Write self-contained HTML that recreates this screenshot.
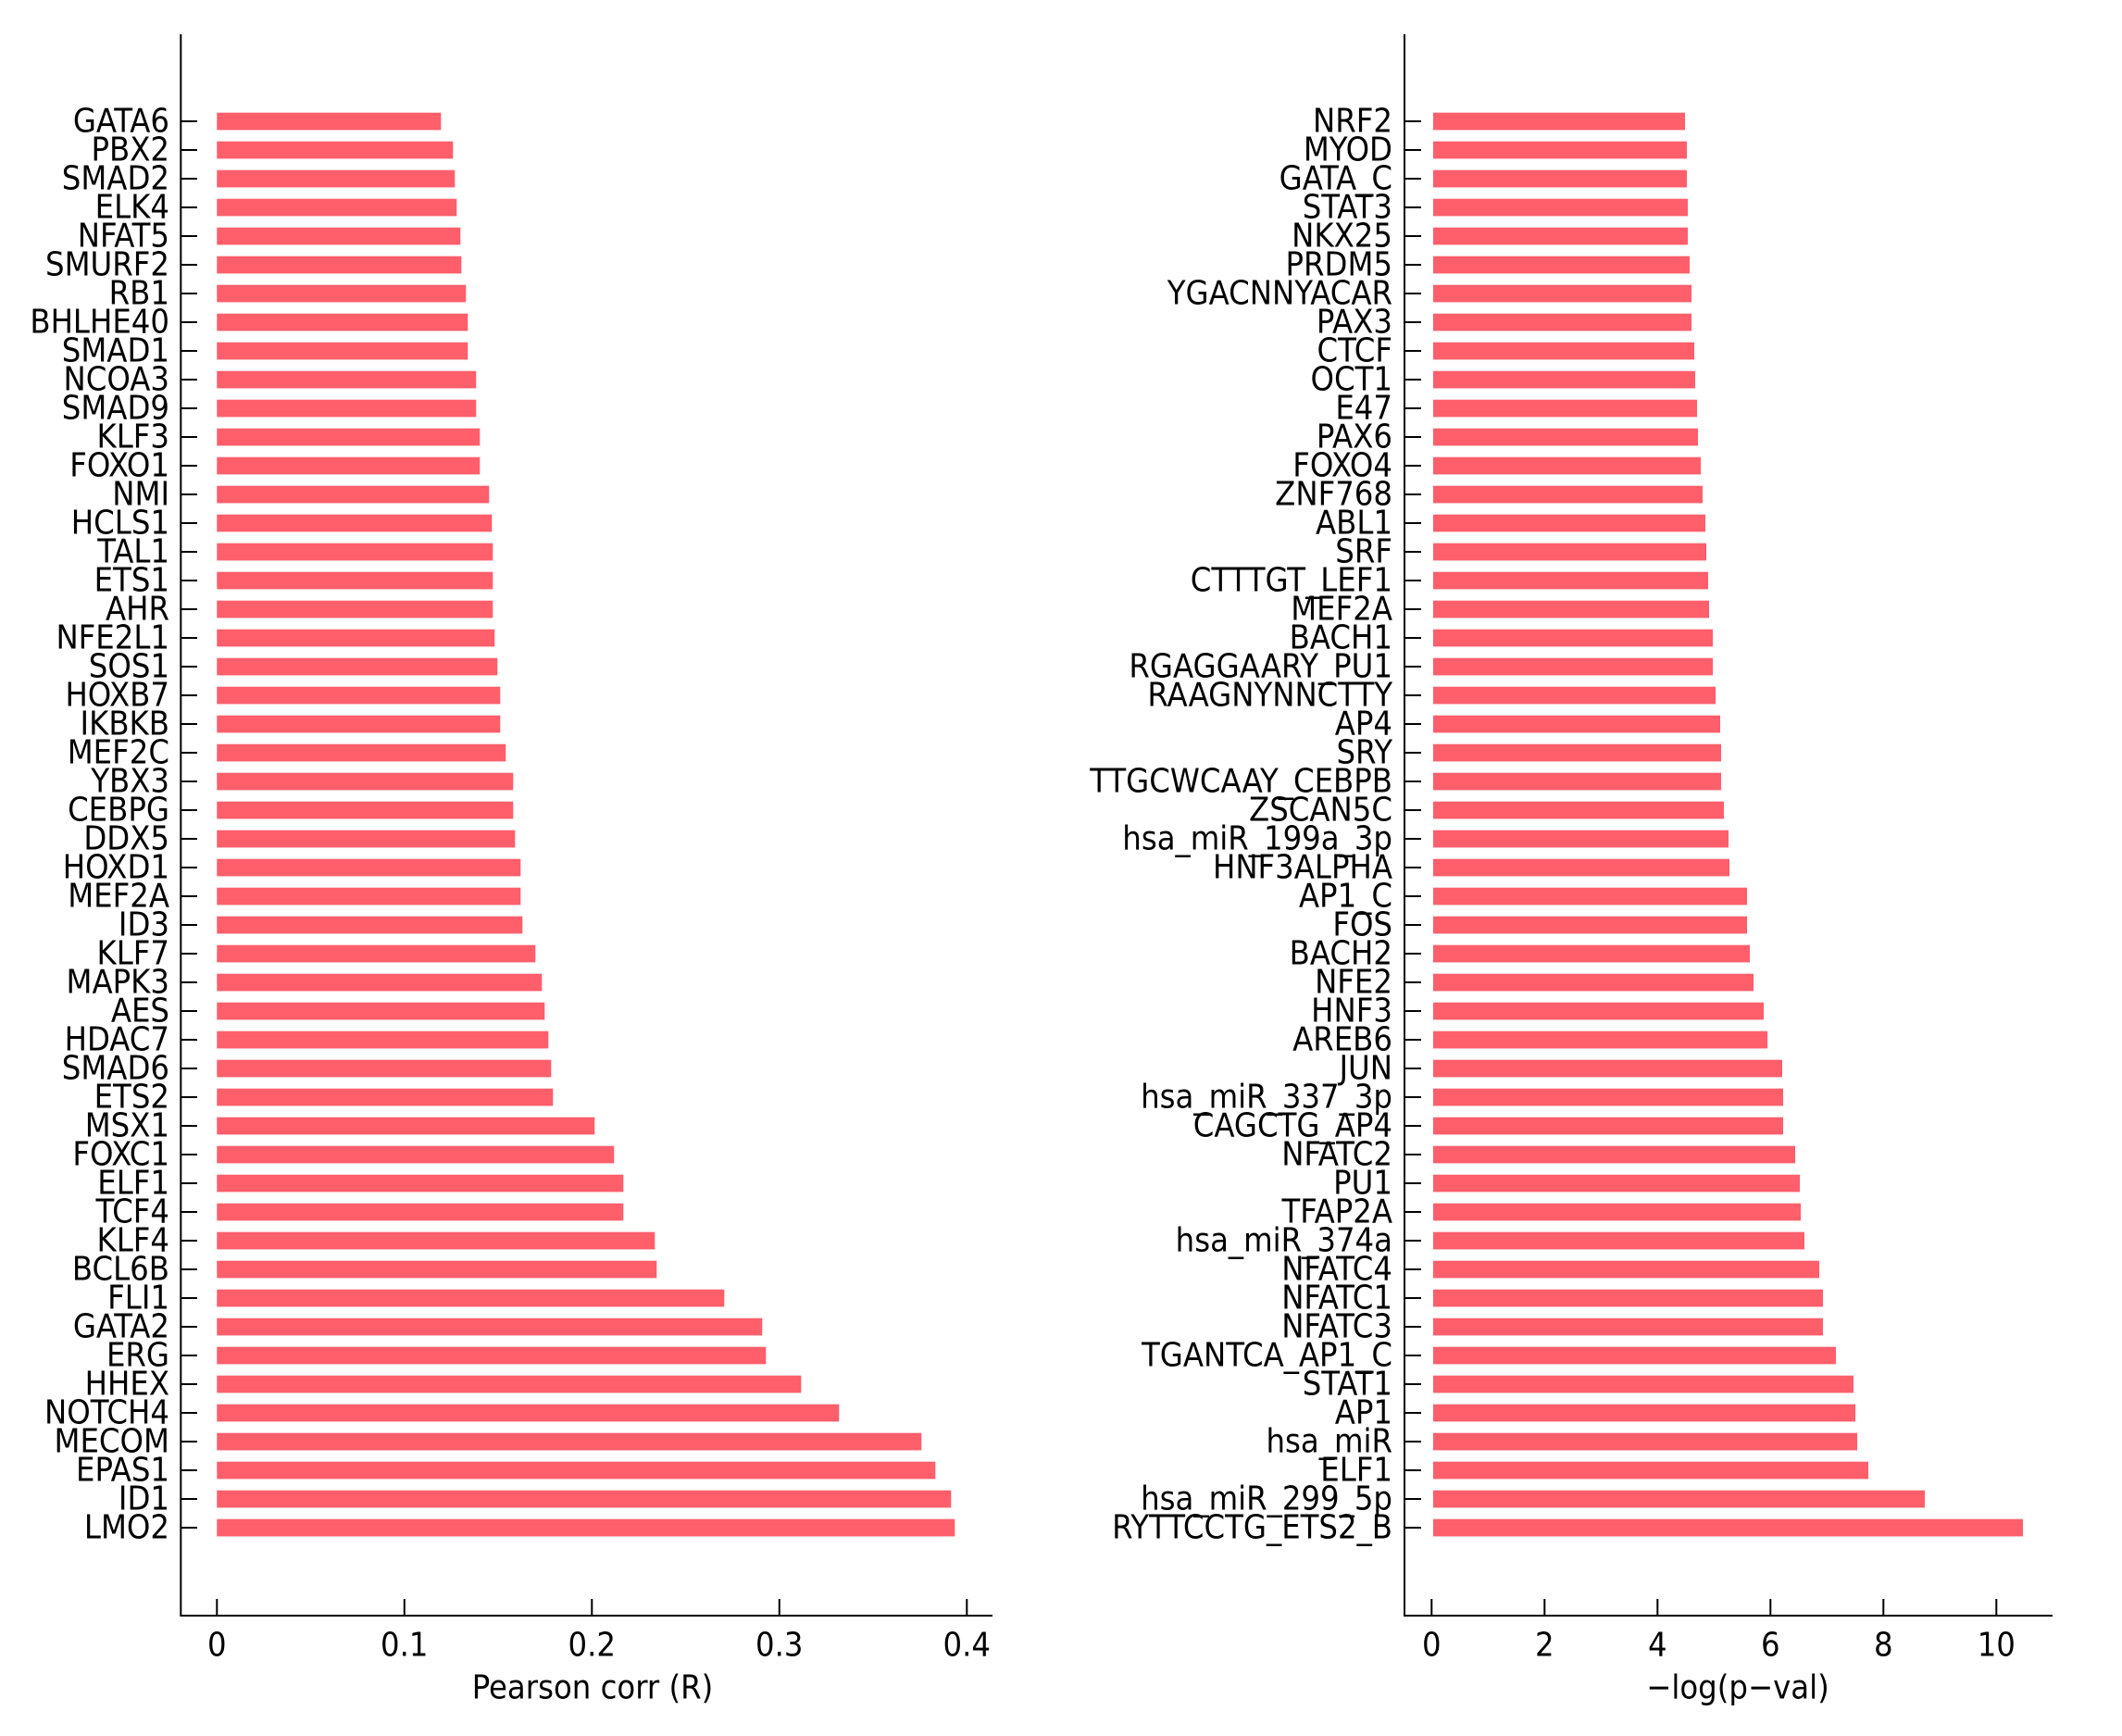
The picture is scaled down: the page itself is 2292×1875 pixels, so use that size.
<!DOCTYPE html>
<html><head><meta charset="utf-8"><style>
html,body{margin:0;padding:0;background:#fff;}
svg{display:block;}
text{font-family:"DejaVu Sans Condensed","DejaVu Sans","Liberation Sans",sans-serif;font-stretch:condensed;font-size:36px;fill:#000;}
</style></head><body>
<svg width="2292" height="1875" viewBox="0 0 2292 1875" xmlns="http://www.w3.org/2000/svg">
<g fill="#ff5e6b">
<rect x="234.3" y="121.7" width="242" height="18.7"/>
<rect x="234.3" y="152.7" width="255" height="18.7"/>
<rect x="234.3" y="183.7" width="257" height="18.7"/>
<rect x="234.3" y="214.7" width="259" height="18.7"/>
<rect x="234.3" y="245.7" width="263" height="18.7"/>
<rect x="234.3" y="276.7" width="264" height="18.7"/>
<rect x="234.3" y="307.7" width="269" height="18.7"/>
<rect x="234.3" y="338.7" width="271" height="18.7"/>
<rect x="234.3" y="369.7" width="271" height="18.7"/>
<rect x="234.3" y="400.7" width="280" height="18.7"/>
<rect x="234.3" y="431.7" width="280" height="18.7"/>
<rect x="234.3" y="462.7" width="284" height="18.7"/>
<rect x="234.3" y="493.7" width="284" height="18.7"/>
<rect x="234.3" y="524.7" width="294" height="18.7"/>
<rect x="234.3" y="555.7" width="297" height="18.7"/>
<rect x="234.3" y="586.7" width="298" height="18.7"/>
<rect x="234.3" y="617.7" width="298" height="18.7"/>
<rect x="234.3" y="648.7" width="298" height="18.7"/>
<rect x="234.3" y="679.7" width="300" height="18.7"/>
<rect x="234.3" y="710.7" width="303" height="18.7"/>
<rect x="234.3" y="741.7" width="306" height="18.7"/>
<rect x="234.3" y="772.7" width="306" height="18.7"/>
<rect x="234.3" y="803.7" width="312" height="18.7"/>
<rect x="234.3" y="834.7" width="320" height="18.7"/>
<rect x="234.3" y="865.7" width="320" height="18.7"/>
<rect x="234.3" y="896.7" width="322" height="18.7"/>
<rect x="234.3" y="927.7" width="328" height="18.7"/>
<rect x="234.3" y="958.7" width="328" height="18.7"/>
<rect x="234.3" y="989.7" width="330" height="18.7"/>
<rect x="234.3" y="1020.7" width="344" height="18.7"/>
<rect x="234.3" y="1051.7" width="351" height="18.7"/>
<rect x="234.3" y="1082.7" width="354" height="18.7"/>
<rect x="234.3" y="1113.7" width="358" height="18.7"/>
<rect x="234.3" y="1144.7" width="361" height="18.7"/>
<rect x="234.3" y="1175.7" width="363" height="18.7"/>
<rect x="234.3" y="1206.7" width="408" height="18.7"/>
<rect x="234.3" y="1237.7" width="429" height="18.7"/>
<rect x="234.3" y="1268.7" width="439" height="18.7"/>
<rect x="234.3" y="1299.7" width="439" height="18.7"/>
<rect x="234.3" y="1330.7" width="473" height="18.7"/>
<rect x="234.3" y="1361.7" width="475" height="18.7"/>
<rect x="234.3" y="1392.7" width="548" height="18.7"/>
<rect x="234.3" y="1423.7" width="589" height="18.7"/>
<rect x="234.3" y="1454.7" width="593" height="18.7"/>
<rect x="234.3" y="1485.7" width="631" height="18.7"/>
<rect x="234.3" y="1516.7" width="672" height="18.7"/>
<rect x="234.3" y="1547.7" width="761" height="18.7"/>
<rect x="234.3" y="1578.7" width="776" height="18.7"/>
<rect x="234.3" y="1609.7" width="793" height="18.7"/>
<rect x="234.3" y="1640.7" width="797" height="18.7"/>

<rect x="1548" y="121.7" width="272" height="18.7"/>
<rect x="1548" y="152.7" width="274" height="18.7"/>
<rect x="1548" y="183.7" width="274" height="18.7"/>
<rect x="1548" y="214.7" width="275" height="18.7"/>
<rect x="1548" y="245.7" width="275" height="18.7"/>
<rect x="1548" y="276.7" width="277" height="18.7"/>
<rect x="1548" y="307.7" width="279" height="18.7"/>
<rect x="1548" y="338.7" width="279" height="18.7"/>
<rect x="1548" y="369.7" width="282" height="18.7"/>
<rect x="1548" y="400.7" width="283" height="18.7"/>
<rect x="1548" y="431.7" width="285" height="18.7"/>
<rect x="1548" y="462.7" width="286" height="18.7"/>
<rect x="1548" y="493.7" width="289" height="18.7"/>
<rect x="1548" y="524.7" width="291" height="18.7"/>
<rect x="1548" y="555.7" width="294" height="18.7"/>
<rect x="1548" y="586.7" width="295" height="18.7"/>
<rect x="1548" y="617.7" width="297" height="18.7"/>
<rect x="1548" y="648.7" width="298" height="18.7"/>
<rect x="1548" y="679.7" width="302" height="18.7"/>
<rect x="1548" y="710.7" width="302" height="18.7"/>
<rect x="1548" y="741.7" width="305" height="18.7"/>
<rect x="1548" y="772.7" width="310" height="18.7"/>
<rect x="1548" y="803.7" width="311" height="18.7"/>
<rect x="1548" y="834.7" width="311" height="18.7"/>
<rect x="1548" y="865.7" width="314" height="18.7"/>
<rect x="1548" y="896.7" width="319" height="18.7"/>
<rect x="1548" y="927.7" width="320" height="18.7"/>
<rect x="1548" y="958.7" width="339" height="18.7"/>
<rect x="1548" y="989.7" width="339" height="18.7"/>
<rect x="1548" y="1020.7" width="342" height="18.7"/>
<rect x="1548" y="1051.7" width="346" height="18.7"/>
<rect x="1548" y="1082.7" width="357" height="18.7"/>
<rect x="1548" y="1113.7" width="361" height="18.7"/>
<rect x="1548" y="1144.7" width="377" height="18.7"/>
<rect x="1548" y="1175.7" width="378" height="18.7"/>
<rect x="1548" y="1206.7" width="378" height="18.7"/>
<rect x="1548" y="1237.7" width="391" height="18.7"/>
<rect x="1548" y="1268.7" width="396" height="18.7"/>
<rect x="1548" y="1299.7" width="397" height="18.7"/>
<rect x="1548" y="1330.7" width="401" height="18.7"/>
<rect x="1548" y="1361.7" width="417" height="18.7"/>
<rect x="1548" y="1392.7" width="421" height="18.7"/>
<rect x="1548" y="1423.7" width="421" height="18.7"/>
<rect x="1548" y="1454.7" width="435" height="18.7"/>
<rect x="1548" y="1485.7" width="454" height="18.7"/>
<rect x="1548" y="1516.7" width="456" height="18.7"/>
<rect x="1548" y="1547.7" width="458" height="18.7"/>
<rect x="1548" y="1578.7" width="470" height="18.7"/>
<rect x="1548" y="1609.7" width="531" height="18.7"/>
<rect x="1548" y="1640.7" width="637" height="18.7"/>
</g>

<g stroke="#000" stroke-width="2" fill="none">
<path d="M195.3 37 V1745 H1072"/>
<path d="M1517 37 V1745 H2217"/>
<path d="M234.3 1727V1745 M436.8 1727V1745 M639.3 1727V1745 M841.8 1727V1745 M1044.3 1727V1745"/>
<path d="M1546.3 1727V1745 M1668.3 1727V1745 M1790.3 1727V1745 M1912.3 1727V1745 M2034.3 1727V1745 M2156.3 1727V1745"/>
<path d="M195 131h18M195 162h18M195 193h18M195 224h18M195 255h18M195 286h18M195 317h18M195 348h18M195 379h18M195 410h18M195 441h18M195 472h18M195 503h18M195 534h18M195 565h18M195 596h18M195 627h18M195 658h18M195 689h18M195 720h18M195 751h18M195 782h18M195 813h18M195 844h18M195 875h18M195 906h18M195 937h18M195 968h18M195 999h18M195 1030h18M195 1061h18M195 1092h18M195 1123h18M195 1154h18M195 1185h18M195 1216h18M195 1247h18M195 1278h18M195 1309h18M195 1340h18M195 1371h18M195 1402h18M195 1433h18M195 1464h18M195 1495h18M195 1526h18M195 1557h18M195 1588h18M195 1619h18M195 1650h18"/>
<path d="M1517 131h18M1517 162h18M1517 193h18M1517 224h18M1517 255h18M1517 286h18M1517 317h18M1517 348h18M1517 379h18M1517 410h18M1517 441h18M1517 472h18M1517 503h18M1517 534h18M1517 565h18M1517 596h18M1517 627h18M1517 658h18M1517 689h18M1517 720h18M1517 751h18M1517 782h18M1517 813h18M1517 844h18M1517 875h18M1517 906h18M1517 937h18M1517 968h18M1517 999h18M1517 1030h18M1517 1061h18M1517 1092h18M1517 1123h18M1517 1154h18M1517 1185h18M1517 1216h18M1517 1247h18M1517 1278h18M1517 1309h18M1517 1340h18M1517 1371h18M1517 1402h18M1517 1433h18M1517 1464h18M1517 1495h18M1517 1526h18M1517 1557h18M1517 1588h18M1517 1619h18M1517 1650h18"/>
</g>

<g text-anchor="end" dominant-baseline="central">
<text x="183" y="131">GATA6</text>
<text x="183" y="162">PBX2</text>
<text x="183" y="193">SMAD2</text>
<text x="183" y="224">ELK4</text>
<text x="183" y="255">NFAT5</text>
<text x="183" y="286">SMURF2</text>
<text x="183" y="317">RB1</text>
<text x="183" y="348">BHLHE40</text>
<text x="183" y="379">SMAD1</text>
<text x="183" y="410">NCOA3</text>
<text x="183" y="441">SMAD9</text>
<text x="183" y="472">KLF3</text>
<text x="183" y="503">FOXO1</text>
<text x="183" y="534">NMI</text>
<text x="183" y="565">HCLS1</text>
<text x="183" y="596">TAL1</text>
<text x="183" y="627">ETS1</text>
<text x="183" y="658">AHR</text>
<text x="183" y="689">NFE2L1</text>
<text x="183" y="720">SOS1</text>
<text x="183" y="751">HOXB7</text>
<text x="183" y="782">IKBKB</text>
<text x="183" y="813">MEF2C</text>
<text x="183" y="844">YBX3</text>
<text x="183" y="875">CEBPG</text>
<text x="183" y="906">DDX5</text>
<text x="183" y="937">HOXD1</text>
<text x="183" y="968">MEF2A</text>
<text x="183" y="999">ID3</text>
<text x="183" y="1030">KLF7</text>
<text x="183" y="1061">MAPK3</text>
<text x="183" y="1092">AES</text>
<text x="183" y="1123">HDAC7</text>
<text x="183" y="1154">SMAD6</text>
<text x="183" y="1185">ETS2</text>
<text x="183" y="1216">MSX1</text>
<text x="183" y="1247">FOXC1</text>
<text x="183" y="1278">ELF1</text>
<text x="183" y="1309">TCF4</text>
<text x="183" y="1340">KLF4</text>
<text x="183" y="1371">BCL6B</text>
<text x="183" y="1402">FLI1</text>
<text x="183" y="1433">GATA2</text>
<text x="183" y="1464">ERG</text>
<text x="183" y="1495">HHEX</text>
<text x="183" y="1526">NOTCH4</text>
<text x="183" y="1557">MECOM</text>
<text x="183" y="1588">EPAS1</text>
<text x="183" y="1619">ID1</text>
<text x="183" y="1650">LMO2</text>

<text x="1504" y="131">NRF2</text>
<text x="1504" y="162">MYOD</text>
<text x="1504" y="193">GATA_C</text>
<text x="1504" y="224">STAT3</text>
<text x="1504" y="255">NKX25</text>
<text x="1504" y="286">PRDM5</text>
<text x="1504" y="317">YGACNNYACAR</text>
<text x="1504" y="348">PAX3</text>
<text x="1504" y="379">CTCF</text>
<text x="1504" y="410">OCT1</text>
<text x="1504" y="441">E47</text>
<text x="1504" y="472">PAX6</text>
<text x="1504" y="503">FOXO4</text>
<text x="1504" y="534">ZNF768</text>
<text x="1504" y="565">ABL1</text>
<text x="1504" y="596">SRF</text>
<text x="1504" y="627">CTTTGT_LEF1</text>
<text x="1504" y="658">MEF2A</text>
<text x="1504" y="689">BACH1</text>
<text x="1504" y="720">RGAGGAARY_PU1</text>
<text x="1504" y="751">RAAGNYNNCTTY</text>
<text x="1504" y="782">AP4</text>
<text x="1504" y="813">SRY</text>
<text x="1504" y="844">TTGCWCAAY_CEBPB</text>
<text x="1504" y="875">ZSCAN5C</text>
<text x="1504" y="906">hsa_miR_199a_3p</text>
<text x="1504" y="937">HNF3ALPHA</text>
<text x="1504" y="968">AP1_C</text>
<text x="1504" y="999">FOS</text>
<text x="1504" y="1030">BACH2</text>
<text x="1504" y="1061">NFE2</text>
<text x="1504" y="1092">HNF3</text>
<text x="1504" y="1123">AREB6</text>
<text x="1504" y="1154">JUN</text>
<text x="1504" y="1185">hsa_miR_337_3p</text>
<text x="1504" y="1216">CAGCTG_AP4</text>
<text x="1504" y="1247">NFATC2</text>
<text x="1504" y="1278">PU1</text>
<text x="1504" y="1309">TFAP2A</text>
<text x="1504" y="1340">hsa_miR_374a</text>
<text x="1504" y="1371">NFATC4</text>
<text x="1504" y="1402">NFATC1</text>
<text x="1504" y="1433">NFATC3</text>
<text x="1504" y="1464">TGANTCA_AP1_C</text>
<text x="1504" y="1495">STAT1</text>
<text x="1504" y="1526">AP1</text>
<text x="1504" y="1557">hsa_miR</text>
<text x="1504" y="1588">ELF1</text>
<text x="1504" y="1619">hsa_miR_299_5p</text>
<text x="1504" y="1650">RYTTCCTG_ETS2_B</text>
</g>

<g text-anchor="middle" dominant-baseline="central">
<text x="234.3" y="1777">0</text>
<text x="436.8" y="1777">0.1</text>
<text x="639.3" y="1777">0.2</text>
<text x="841.8" y="1777">0.3</text>
<text x="1044.3" y="1777">0.4</text>
<text x="1546.3" y="1777">0</text>
<text x="1668.3" y="1777">2</text>
<text x="1790.3" y="1777">4</text>
<text x="1912.3" y="1777">6</text>
<text x="2034.3" y="1777">8</text>
<text x="2156.3" y="1777">10</text>
<text x="640" y="1823">Pearson corr (R)</text>
<text x="1877" y="1823">−log(p−val)</text>
</g>
</svg>
</body></html>
